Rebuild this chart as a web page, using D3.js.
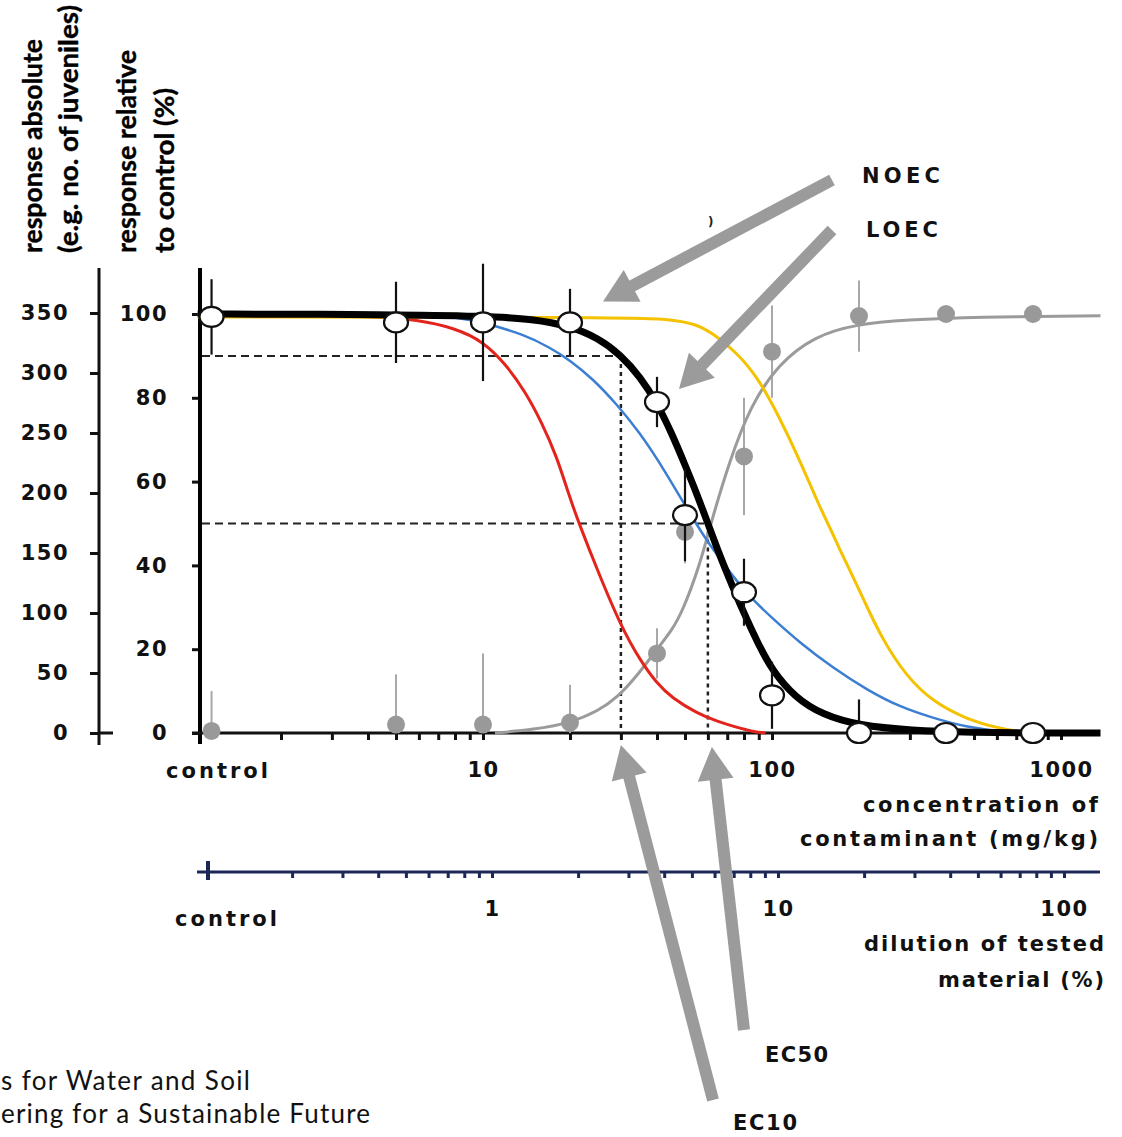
<!DOCTYPE html>
<html><head><meta charset="utf-8">
<script src="https://cdn.jsdelivr.net/npm/d3@7"></script>
<style>body{margin:0;background:#fff} svg{display:block}</style>
</head><body>
<svg id="c" width="1122" height="1137"></svg>
<script>
// ---------- DATA ----------
const controlConc = 1.15;                       // position used for the "control" group
const concTickLabels = [10, 100, 1000];
const dilTickLabels = [1, 10, 100];
const absTicks = [0, 50, 100, 150, 200, 250, 300, 350];
const relTicks = [0, 20, 40, 60, 80, 100];

// open circles (measured response, % of control) with error bars
const testConc     = [controlConc, 5, 10, 20, 40, 50, 80, 100, 200, 400, 800];
const testResponse = [99.3, 98, 98, 98, 79, 52, 33.6, 9, 0, 0, 0];
const testError    = [9, 9.7, 14, 8, 6, 11, 8, 8, 8, 0, 0];

// grey filled points (increasing response) with error bars
const greyConc     = [controlConc, 5, 10, 20, 40, 50, 80, 100, 200, 400, 800];
const greyResponse = [0.5, 2, 2, 2.5, 19, 48, 66, 91, 99.5, 100, 100];
const greyError    = [9.5, 12, 17, 9, 6, 7.5, 14, 11, 8.5, 2, 2];

// fitted curves [concentration, response %]
const blackCurve = [[1.03,100],[5,99.9],[10,99.5],[15,98.8],[20,97.1],[25,94.3],[30,90.2],[35,85],[40,78.8],[45,71.5],[50,64],[55,57],[60,50],[65,43.5],[70,38],[80,28.5],[90,21],[100,15],[120,8.5],[150,4.3],[200,1.8],[300,0.6],[500,0.15],[800,0],[1370,0]];
const redCurve   = [[1.03,100],[4,99.6],[6,98.6],[8,96.6],[10,93.5],[12,88],[14,81.5],[16,74],[18,66],[20,56],[21.5,50],[25,38.5],[30,25.5],[35,17.3],[40,11.8],[45,8.4],[55,4.7],[65,2.7],[75,1.4],[85,0.4],[95,0]];
const blueCurve  = [[1.03,100],[6,99.8],[8,99.3],[10,98],[14,95],[17,92],[20,89],[24,84.5],[29,78.5],[35,71.5],[40,65.5],[47,57.5],[54,50.5],[60,45.5],[73,37.5],[85,32],[100,27.5],[125,21.5],[163,15.5],[213,10.3],[277,6.2],[360,3.6],[470,1.4],[612,0.4],[750,0]];
const yellowCurve= [[1.03,99.3],[30,99.2],[45,98.8],[55,97.5],[62,95.5],[75,91],[89,85],[105,76],[125,65],[145,54.5],[160,48.5],[171,44],[190,37.5],[207,32],[240,22.5],[292,13.5],[360,7.5],[470,3.3],[612,1.1],[720,0.3],[800,0]];
const greyCurve  = [[11,0],[15,0.8],[20,2.4],[25,5.2],[29.3,8.6],[34,13.5],[40,20],[45,24.5],[49,29],[56,39.6],[62,51],[71,64.5],[84,78],[105,88],[140,94.7],[196,97.6],[293,98.6],[500,99.3],[1370,99.6]];

// effect concentrations
const ecLevels = [10, 50];
const ecConc   = [30, 60];

// ---------- SCALES ----------
const svg = d3.select("#c");
const xC = d3.scaleLog().domain([1, 1000]).range([194, 1061]);
const xD = d3.scaleLog().domain([0.1, 100]).range([206, 1064]);
const yR = d3.scaleLinear().domain([0, 100]).range([733, 314]);
const yA = d3.scaleLinear().domain([0, 350]).range([733, 313]);

const FONT = "'DejaVu Sans', Verdana, sans-serif";
const TFONT = "Lato, 'Open Sans', sans-serif";
const NAVY = "#1b2857";
const GREY = "#9b9b9b";

// ---------- Y TITLES ----------
const titles = [
  {t:"response absolute", x:42, len:214},
  {t:"(e.g. no. of juveniles)", x:78, len:248},
  {t:"response relative", x:136, len:203},
  {t:"to control (%)", x:174, len:165}
];
titles.forEach(d => {
  svg.append("text")
    .attr("transform", `translate(${d.x},253) rotate(-90)`)
    .attr("font-family", TFONT).attr("font-weight", 700).attr("font-size", 27)
    .attr("textLength", d.len).attr("lengthAdjust", "spacingAndGlyphs")
    .attr("fill", "#000").attr("stroke", "#000").attr("stroke-width", 0.4).text(d.t);
});

// ---------- Y AXES ----------
function styleAxis(g, col, w) {
  g.select(".domain").remove();
  g.selectAll(".tick line").attr("stroke", col).attr("stroke-width", w);
  g.selectAll(".tick text").attr("font-family", FONT).attr("font-weight", 700)
    .attr("font-size", 21).attr("fill", "#111").style("letter-spacing", "1.5px");
}
const gA = svg.append("g").attr("transform", "translate(99,0)")
  .call(d3.axisLeft(yA).tickValues(absTicks).tickSize(9).tickPadding(21));
styleAxis(gA, "#111", 3);
svg.append("line").attr("x1", 99).attr("x2", 99).attr("y1", 268).attr("y2", 745)
  .attr("stroke", "#111").attr("stroke-width", 3);
svg.append("line").attr("x1", 99).attr("x2", 113).attr("y1", yA(0)).attr("y2", yA(0))
  .attr("stroke", "#111").attr("stroke-width", 3);

const gR = svg.append("g").attr("transform", "translate(200,0)")
  .call(d3.axisLeft(yR).tickValues(relTicks).tickSize(8).tickPadding(24));
styleAxis(gR, "#111", 3);
svg.append("line").attr("x1", 200).attr("x2", 200).attr("y1", 268).attr("y2", 744)
  .attr("stroke", "#000").attr("stroke-width", 4);

// ---------- X AXES ----------
const concTicks = [];
[1, 10, 100].forEach(dec => { for (let k = 2; k <= 10; k++) concTicks.push(k * dec); });
const gX = svg.append("g").attr("transform", `translate(0,${yR(0)})`)
  .call(d3.axisBottom(xC).tickValues(concTicks).tickSize(7).tickPadding(22)
    .tickFormat(d => concTickLabels.includes(d) ? d : ""));
styleAxis(gX, "#111", 3);
svg.append("line").attr("x1", 192).attr("x2", 1100).attr("y1", yR(0)).attr("y2", yR(0))
  .attr("stroke", "#111").attr("stroke-width", 3);

const dilTicks = [];
[0.1, 1, 10].forEach(dec => { for (let k = 2; k <= 10; k++) dilTicks.push(+(k * dec).toFixed(2)); });
const gD = svg.append("g").attr("transform", "translate(0,872)")
  .call(d3.axisBottom(xD).tickValues(dilTicks).tickSize(6).tickPadding(23)
    .tickFormat(d => dilTickLabels.includes(d) ? d : ""));
styleAxis(gD, NAVY, 3);
gD.selectAll(".tick text").attr("fill", "#111");
svg.append("line").attr("x1", 197).attr("x2", 1100).attr("y1", 872).attr("y2", 872)
  .attr("stroke", NAVY).attr("stroke-width", 3);
svg.append("line").attr("x1", 208).attr("x2", 208).attr("y1", 861).attr("y2", 880)
  .attr("stroke", NAVY).attr("stroke-width", 4);

function label(t, x, y, anchor, len) {
  const s = svg.append("text").attr("x", x).attr("y", y).attr("text-anchor", anchor)
    .attr("font-family", FONT).attr("font-weight", 700).attr("font-size", 21)
    .attr("fill", "#111").text(t);
  if (len) s.attr("textLength", len).attr("lengthAdjust", "spacing");
  return s;
}
label("control", 166, 778, "start", 102);
label("concentration of", 1098, 812, "end", 235);
label("contaminant (mg/kg)", 1098, 846, "end", 298);
label("control", 175, 926, "start", 102);
label("dilution of tested", 1104, 951, "end", 240);
label("material (%)", 1104, 987, "end", 166);

// ---------- REFERENCE (EC) LINES ----------
ecLevels.forEach((lvl, i) => {
  const yy = yR(100 - lvl), xx = xC(ecConc[i]);
  svg.append("line").attr("x1", 202).attr("x2", xx).attr("y1", yy).attr("y2", yy)
    .attr("stroke", "#222").attr("stroke-width", 2).attr("stroke-dasharray", "8,5");
  svg.append("line").attr("x1", xx).attr("x2", xx).attr("y1", yy).attr("y2", yR(0))
    .attr("stroke", "#222").attr("stroke-width", 2.5).attr("stroke-dasharray", "4,4");
});

// ---------- CURVES ----------
const line = d3.line().x(d => xC(d[0])).y(d => yR(d[1])).curve(d3.curveBasis);
function curve(data, col, w) {
  svg.append("path").datum(data).attr("d", line).attr("fill", "none")
    .attr("stroke", col).attr("stroke-width", w).attr("stroke-linejoin", "round");
}
// grey error bars + points
greyConc.forEach((c, i) => {
  svg.append("line").attr("x1", xC(c)).attr("x2", xC(c))
    .attr("y1", yR(Math.max(0, greyResponse[i] - greyError[i])))
    .attr("y2", yR(greyResponse[i] + greyError[i]))
    .attr("stroke", "#a8a8a8").attr("stroke-width", 2);
});
curve(greyCurve, GREY, 3);
svg.selectAll(".gp").data(greyConc).enter().append("circle")
  .attr("cx", d => xC(d)).attr("cy", (d, i) => yR(greyResponse[i])).attr("r", 9)
  .attr("fill", "#999");
curve(redCurve, "#e3241c", 3);
curve(blueCurve, "#3c7fd2", 2.5);
curve(yellowCurve, "#f4c200", 3);
curve(blackCurve, "#000", 7);

// black error bars + open circles
testConc.forEach((c, i) => {
  if (!testError[i]) return;
  svg.append("line").attr("x1", xC(c)).attr("x2", xC(c))
    .attr("y1", yR(Math.max(0, testResponse[i] - testError[i])))
    .attr("y2", yR(testResponse[i] + testError[i]))
    .attr("stroke", "#111").attr("stroke-width", 2.2);
});
svg.selectAll(".op").data(testConc).enter().append("ellipse")
  .attr("cx", d => xC(d)).attr("cy", (d, i) => yR(testResponse[i]))
  .attr("rx", 12).attr("ry", 10)
  .attr("fill", "#fff").attr("stroke", "#111").attr("stroke-width", 2.2);

// ---------- ARROWS ----------
function arrow(x1, y1, x2, y2) {
  const dx = x2 - x1, dy = y2 - y1, L = Math.hypot(dx, dy);
  const ux = dx / L, uy = dy / L, nx = -uy, ny = ux;
  const hl = 33, hw = 36, w = 12;
  const bx = x2 - ux * hl, by = y2 - uy * hl;
  svg.append("line").attr("x1", x1).attr("y1", y1).attr("x2", bx + ux * 2).attr("y2", by + uy * 2)
    .attr("stroke", GREY).attr("stroke-width", w);
  svg.append("path").attr("d",
    `M${x2},${y2} L${bx + nx * hw / 2},${by + ny * hw / 2} L${bx - nx * hw / 2},${by - ny * hw / 2} Z`)
    .attr("fill", GREY);
}
const noecIdx = 3, loecIdx = 4;
arrow(832, 180, xC(testConc[noecIdx]) + 33, yR(testResponse[noecIdx]) - 21);
arrow(832, 230, xC(testConc[loecIdx]) + 22, yR(testResponse[loecIdx]) - 13);
arrow(713, 1100, xC(ecConc[0]), yR(0) + 12);
arrow(744, 1030, xC(ecConc[1]) + 4, yR(0) + 14);

// annotation labels
label("NOEC", 862, 183, "start", 78);
label("LOEC", 866, 237, "start", 72);
label("EC50", 765, 1062, "start", 63);
label("EC10", 733, 1130, "start", 64);
svg.append("text").attr("x", 708).attr("y", 226).attr("font-family", FONT)
  .attr("font-weight", 700).attr("font-size", 12).attr("fill", "#222").text(")");

// ---------- FOOTER TEXT ----------
svg.append("text").attr("x", 1).attr("y", 1090).attr("font-family", TFONT)
  .attr("font-size", 26).attr("fill", "#111")
  .attr("textLength", 249).attr("lengthAdjust", "spacing").text("s for Water and Soil");
svg.append("text").attr("x", 1).attr("y", 1123).attr("font-family", TFONT)
  .attr("font-size", 26).attr("fill", "#111")
  .attr("textLength", 369).attr("lengthAdjust", "spacing").text("ering for a Sustainable Future");
</script>
</body></html>
